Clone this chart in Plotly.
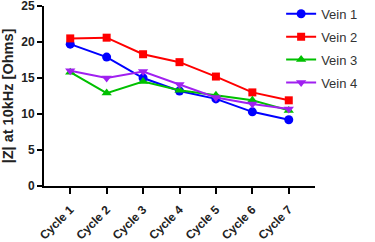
import plotly.graph_objects as go

cycles = ["Cycle 1", "Cycle 2", "Cycle 3", "Cycle 4", "Cycle 5", "Cycle 6", "Cycle 7"]
vein1 = [19.7, 17.9, 15.0, 13.2, 12.1, 10.3, 9.2]
vein2 = [20.5, 20.6, 18.3, 17.2, 15.2, 13.0, 11.9]
vein3 = [15.8, 12.9, 14.5, 13.3, 12.6, 11.9, 10.5]
vein4 = [16.0, 15.0, 15.9, 14.1, 12.3, 11.4, 10.7]

series = [
    ("Vein 1", vein1, "#0000ff", "circle", 9),
    ("Vein 2", vein2, "#ff0000", "square", 8),
    ("Vein 3", vein3, "#00c000", "triangle-up", 9),
    ("Vein 4", vein4, "#a020f0", "triangle-down", 9),
]

fig = go.Figure()
for i, (name, vals, col, sym, sz) in enumerate(series):
    fig.add_trace(go.Scatter(
        x=list(range(len(cycles))), y=vals, name=name, mode="lines+markers",
        line=dict(color=col, width=2),
        marker=dict(symbol=sym, size=sz, color=col),
        legendgroup=f"g{i}",
    ))

fig.update_layout(
    width=375, height=242,
    margin=dict(l=44, r=60, t=6, b=56, autoexpand=False),
    paper_bgcolor="white", plot_bgcolor="white",
    font=dict(family="Liberation Sans, Arial", color="#222222"),
    showlegend=True,
    legend=dict(x=0.875, y=1.04,
                xanchor="left", yanchor="top",
                font=dict(size=13, color="#333333"),
                tracegroupgap=3, bgcolor="rgba(0,0,0,0)"),
)
fig.update_xaxes(
    range=[-0.72, 6.72], tickmode="array",
    tickvals=list(range(len(cycles))),
    ticktext=[f"<b>{c}</b>" for c in cycles],
    tickangle=-45, showgrid=False, zeroline=False, automargin=False,
    showline=True, linecolor="black", linewidth=2,
    ticks="outside", ticklen=6, tickwidth=2, tickcolor="black",
    ticklabelstandoff=4, ticklabeloverflow="allow",
    tickfont=dict(size=12, color="#222222"),
)
fig.update_yaxes(
    range=[0, 25], tickvals=[0, 5, 10, 15, 20, 25],
    ticktext=[f"<b>{v}</b>" for v in [0, 5, 10, 15, 20, 25]],
    showgrid=False, zeroline=False, automargin=False,
    showline=True, linecolor="black", linewidth=2,
    ticks="outside", ticklen=5, tickwidth=2, tickcolor="black",
    ticklabeloverflow="allow",
    tickfont=dict(size=12, color="#222222"),
    title=dict(text="<b>|Z| at 10kHz [Ohms]</b>", font=dict(size=14.5, color="#222222"), standoff=4),
)

fig.write_html("out.html", config={"displayModeBar": False},
               post_script="document.body.style.margin='0';")
